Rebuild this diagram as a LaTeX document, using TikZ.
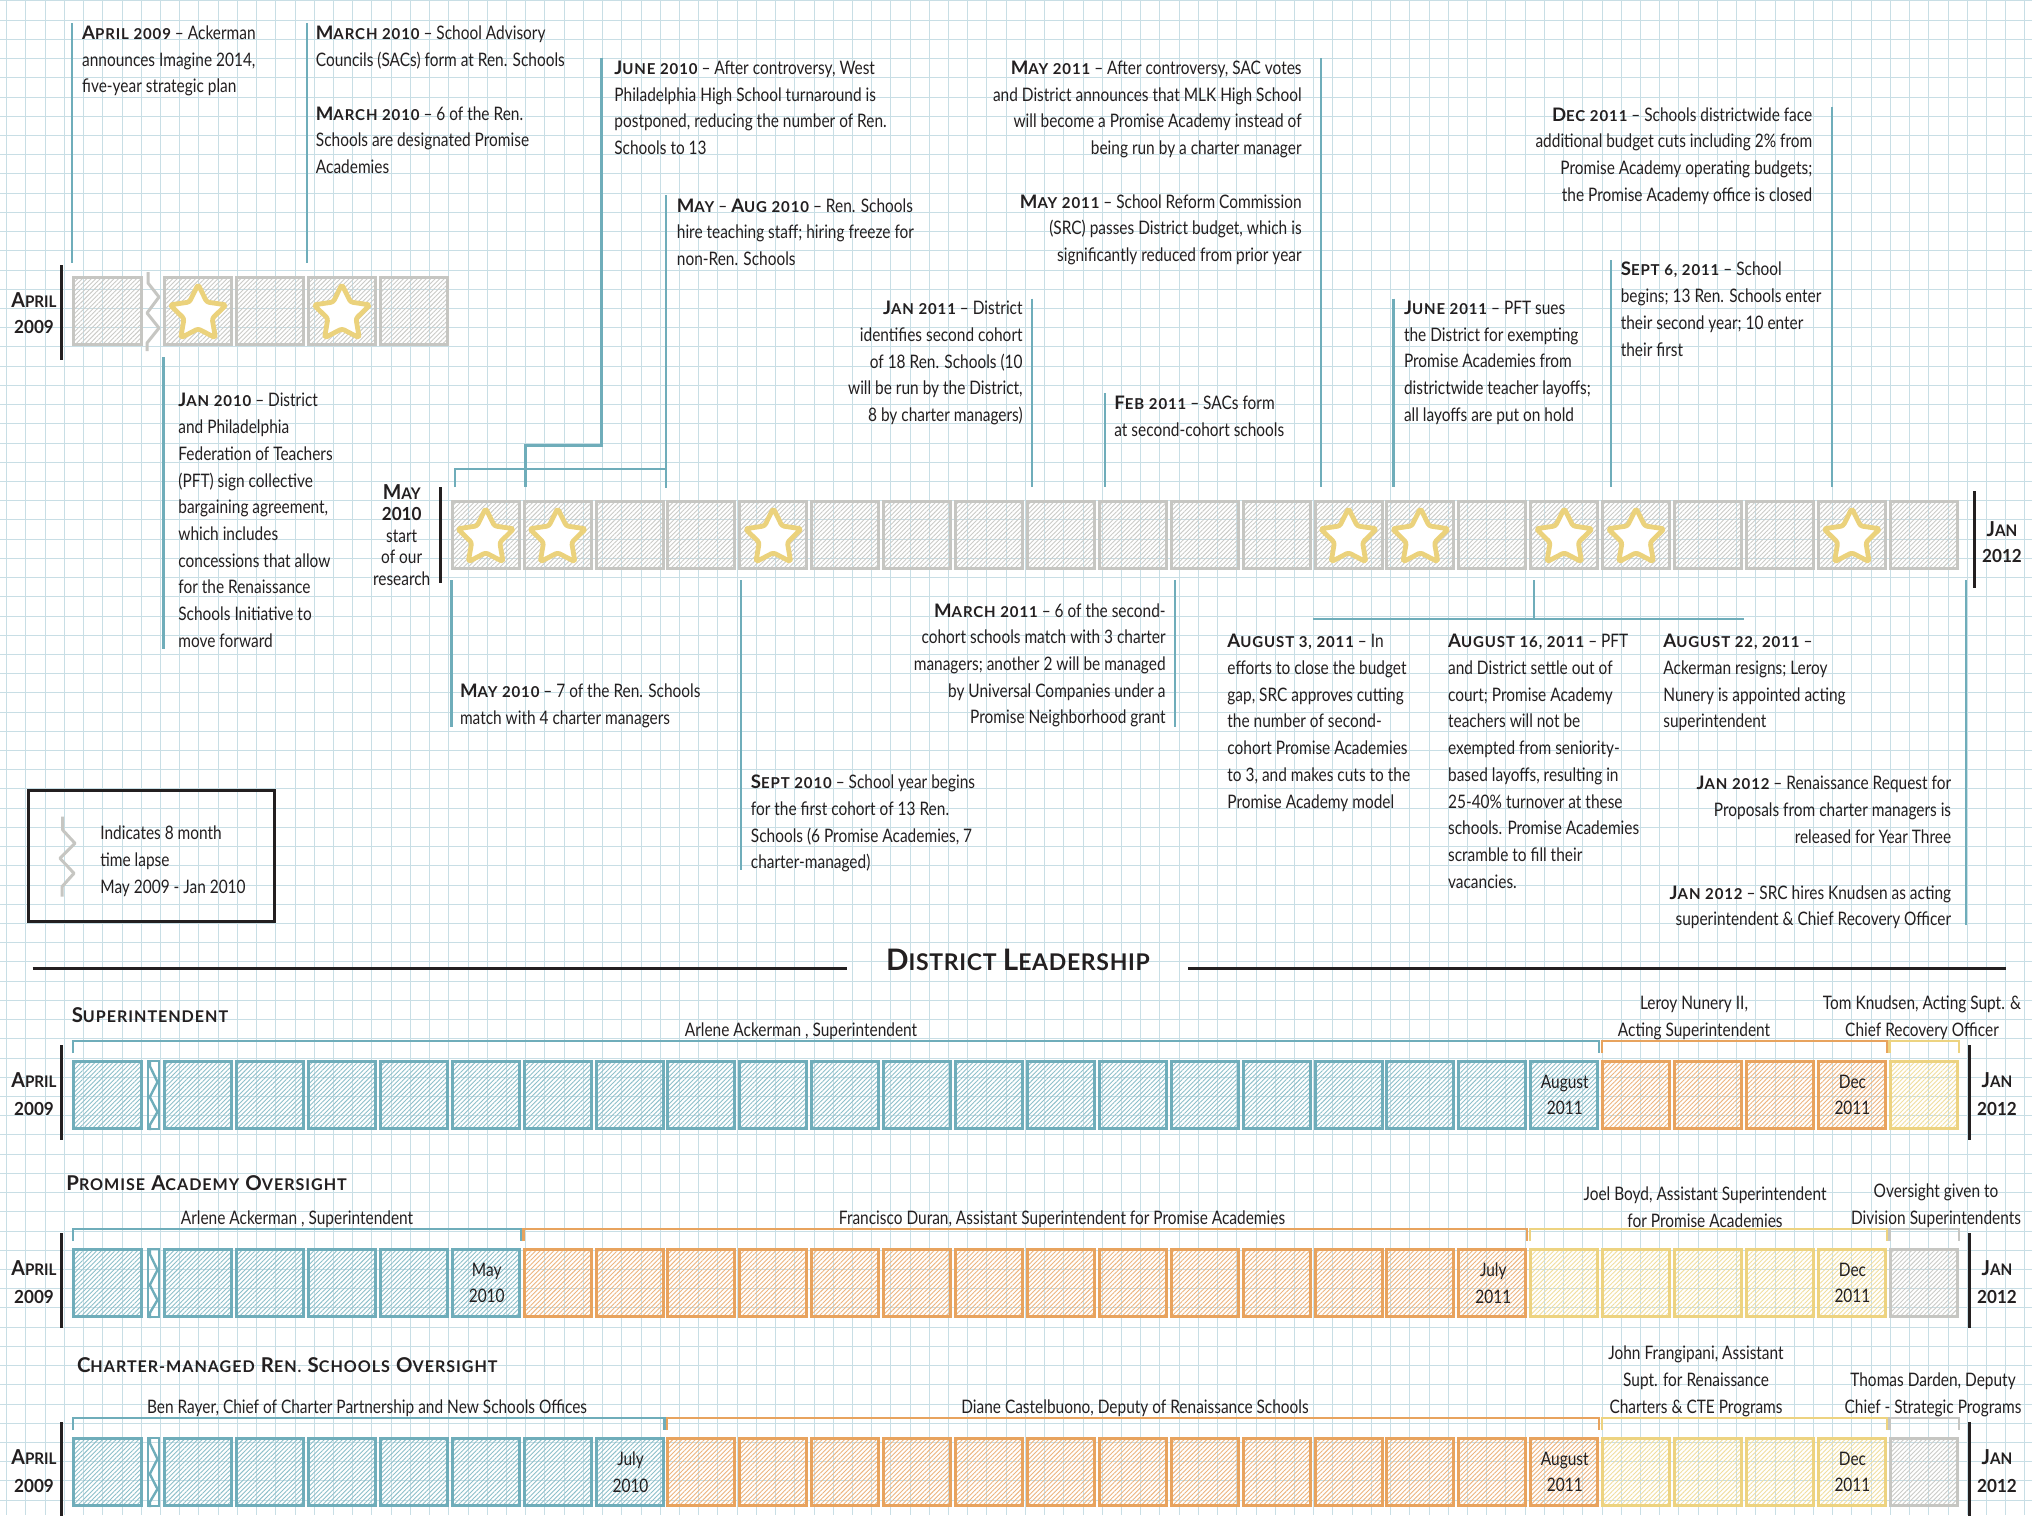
\documentclass[tikz,border=0pt]{standalone}
\usepackage{fontspec}
\setmainfont{Lato}[FakeStretch=0.83]
\newfontfamily\hdfont{Lato}[LetterSpace=6]
\newfontfamily\ttfont{Lato}[LetterSpace=3]
\newfontfamily\sdfont{Lato}[FakeStretch=0.95]
\usetikzlibrary{patterns.meta}
\definecolor{cink}{HTML}{231F20}
\definecolor{cteal}{HTML}{6FADBA}
\definecolor{ctealh}{HTML}{8DBFCA}
\definecolor{corange}{HTML}{E8A35E}
\definecolor{corangeh}{HTML}{EDB47E}
\definecolor{cyellow}{HTML}{EDD380}
\definecolor{cyellowh}{HTML}{F1DE9E}
\definecolor{cgray}{HTML}{C6C6C2}
\definecolor{cgrayh}{HTML}{CBCBC7}
\definecolor{cstar}{HTML}{EBD27C}
\definecolor{cgrid}{HTML}{C8DEE5}
\newcommand\bodyfont{\fontsize{9.3}{13.35}\selectfont}
\newcommand\hd[2]{{\hdfont\bfseries #1\fontsize{7.5}{8}\selectfont\MakeUppercase{#2}}}
\newcommand\shd[2]{{\sdfont\bfseries\fontsize{10.3}{12}\selectfont #1\fontsize{8}{12}\selectfont\MakeUppercase{#2}}}
\newcommand\sdig[1]{{\sdfont\bfseries\fontsize{9}{12}\selectfont #1}}
\newcommand\sect[1]{{\hdfont\bfseries\fontsize{10.2}{13}\selectfont #1}}
\newcommand\secs[1]{{\fontsize{8.05}{13}\selectfont\MakeUppercase{#1}}}
\newcommand\mbx[3]{%
  \pgfmathsetmacro\bxL{163.1+#1*71.9+1.5}%
  \pgfmathsetmacro\bxR{163.1+#1*71.9+68.5}%
  \draw[bx=#3] (\bxL,#2+1.5) rectangle (\bxR,#2+68.5);}
\newcommand\ystar[2]{%
  \draw[starsty] (#1,#2) +(-90:29.5) -- +(-54:14.8) -- +(-18:29.5) -- +(18:14.8) -- +(54:29.5) -- +(90:14.8) -- +(126:29.5) -- +(162:14.8) -- +(198:29.5) -- +(234:14.8) -- cycle;}
\newcommand\kstar[2]{\pgfmathsetmacro\stx{163.1+#1*71.9+35}\ystar{\stx}{#2}}
\newcommand\brk[4]{\draw[brsty=#4] (#1,#3+12) -- (#1,#3) -- (#2,#3) -- (#2,#3+12);}
\newcommand\strip[1]{%
  \draw[cteal, line width=1.2pt] (148,#1+1.2) rectangle (158.7,#1+68.8);
  \draw[cteal, line width=1.2pt, line join=round] (149.8,#1) -- (149.8,#1+6) -- (157.5,#1+22) -- (149.8,#1+37) -- (157.5,#1+52) -- (149.8,#1+65) -- (149.8,#1+70);}
\newcommand\sidelabs[2]{%
  \node[lab, anchor=base] (L#2a) at (34,#1+27) {\shd{A}{pril}};
  \node[lab, anchor=base] (L#2b) at (34,#1+55) {\sdig{2009}};
  \draw[blk] (61.7,#1-15) -- (61.7,#1+80);
  \node[lab, anchor=base] (R#2a) at (1997,#1+27) {\shd{J}{an}};
  \node[lab, anchor=base] (R#2b) at (1997,#1+55) {\sdig{2012}};
  \draw[blk] (1969,#1-15) -- (1969,#1+80);}
\begin{document}
\begin{tikzpicture}[x=0.5pt,y=-0.5pt,
  grid/.style={cgrid, line width=0.45pt},
  bx/.style={draw=#1, line width=1.5pt, pattern={Lines[angle=45,distance=1.6pt,line width=0.45pt]}, pattern color=#1h},
  starsty/.style={cstar, line width=2.4pt, fill=white, line join=round, rounded corners=1.2pt},
  conn/.style={cteal, line width=1.3pt},
  blk/.style={cink, line width=1.5pt},
  brsty/.style={#1, line width=1.1pt},
  txt/.style={font=\bodyfont, text=cink, inner sep=0pt, align=left, yshift=-1pt},
  txtr/.style={font=\bodyfont, text=cink, inner sep=0pt, align=right, yshift=-1pt},
  lab/.style={font=\bodyfont, text=cink, inner sep=0pt, align=center},
  zig/.style={cgray, line width=1.5pt, line join=round}]
\fill[white] (0,0) rectangle (2032,1515);
\useasboundingbox (0,0) rectangle (2032,1515);
\clip (0,0) rectangle (2032,1515);
\foreach \i in {0,...,105} \draw[grid] ({6.7+\i*19.22},0) -- ++(0,1515);
\foreach \j in {0,...,78} \draw[grid] (0,{0.9+\j*19.22}) -- ++(2032,0);

% ---------- top small timeline ----------
\draw[bx=cgray] (73.5,277.5) rectangle (141.5,344.5);
\foreach \k in {0,...,3} \mbx{\k}{276}{cgray};
\kstar{0}{314}\kstar{2}{314}
\draw[zig] (148,272) -- (148,283) -- (159,297) -- (147,313) -- (159,328) -- (147,343) -- (147,351);
\node[lab, anchor=base] (apr1) at (34,307) {\shd{A}{pril}};
\node[lab, anchor=base] (apr2) at (34,333) {\sdig{2009}};
\draw[blk] (61.7,265) -- (61.7,360);

% ---------- main timeline ----------
\foreach \k in {4,...,24} \mbx{\k}{500}{cgray};
\foreach \k in {4,5,8,16,17,19,20,23} \kstar{\k}{537.9};
\node[lab, anchor=north, font=\fontsize{9.3}{10.75}\selectfont] (may) at (401.7,484) {\shd{M}{ay}\\\sdig{2010}\\start\\of our\\research};
\draw[blk] (440.7,487) -- (440.7,583);
\node[lab, anchor=base] (jan1) at (2002,536) {\shd{J}{an}};
\node[lab, anchor=base] (jan2) at (2002,562) {\sdig{2012}};
\draw[blk] (1974,491) -- (1974,588);

% ---------- event texts ----------
\node[txt, anchor=north west] (t1) at (81.8,23.5) {\hd{A}{pril 2009} -- Ackerman\\announces Imagine 2014,\\five-year strategic plan};
\node[txt, anchor=north west] (t2) at (315.5,23.5) {\hd{M}{arch 2010} -- School Advisory\\Councils (SACs) form at Ren. Schools};
\node[txt, anchor=north west] (t3) at (315.5,104) {\hd{M}{arch 2010} -- 6 of the Ren.\\Schools are designated Promise\\Academies};
\node[txt, anchor=north west] (t4) at (614,58.5) {\hd{J}{une 2010} -- After controversy, West\\Philadelphia High School turnaround is\\postponed, reducing the number of Ren.\\Schools to 13};
\node[txt, anchor=north west] (t5) at (676.5,196) {\hd{M}{ay} -- \hd{A}{ug 2010} -- Ren. Schools\\hire teaching staff; hiring freeze for\\non-Ren. Schools};
\node[txtr, anchor=north east] (t6) at (1302,58.5) {\hd{M}{ay 2011} -- After controversy, SAC votes\\and District announces that MLK High School\\will become a Promise Academy instead of\\being run by a charter manager};
\node[txtr, anchor=north east] (t7) at (1302,192) {\hd{M}{ay 2011} -- School Reform Commission\\(SRC) passes District budget, which is\\significantly reduced from prior year};
\node[txtr, anchor=north east] (t8) at (1812.6,105) {\hd{D}{ec 2011} -- Schools districtwide face\\additional budget cuts including 2\% from\\Promise Academy operating budgets;\\the Promise Academy office is closed};
\node[txt, anchor=north west] (t9) at (1620.4,259.8) {\hd{S}{ept 6, 2011} -- School\\begins; 13 Ren. Schools enter\\their second year; 10 enter\\their first};
\node[txt, anchor=north west] (t10) at (1403.6,298.7) {\hd{J}{une 2011} -- PFT sues\\the District for exempting\\Promise Academies from\\districtwide teacher layoffs;\\all layoffs are put on hold};
\node[txt, anchor=north west] (t11) at (1114,393.5) {\hd{F}{eb 2011} -- SACs form\\at second-cohort schools};
\node[txtr, anchor=north east] (t12) at (1023,298.7) {\hd{J}{an 2011} -- District\\identifies second cohort\\of 18 Ren. Schools (10\\will be run by the District,\\8 by charter managers)};
\node[txt, anchor=north west] (t13) at (178,391) {\hd{J}{an 2010} -- District\\and Philadelphia\\Federation of Teachers\\(PFT) sign collective\\bargaining agreement,\\which includes\\concessions that allow\\for the Renaissance\\Schools Initiative to\\move forward};
\node[txt, anchor=north west] (t14) at (459.6,681.7) {\hd{M}{ay 2010} -- 7 of the Ren. Schools\\match with 4 charter managers};
\node[txt, anchor=north west] (t15) at (750.5,772.6) {\hd{S}{ept 2010} -- School year begins\\for the first cohort of 13 Ren.\\Schools (6 Promise Academies, 7\\charter-managed)};
\node[txtr, anchor=north east] (t16) at (1166,601) {\hd{M}{arch 2011} -- 6 of the second-\\cohort schools match with 3 charter\\managers; another 2 will be managed\\by Universal Companies under a\\Promise Neighborhood grant};
\node[txt, anchor=north west] (t17) at (1227,632) {\hd{A}{ugust 3, 2011} -- In\\efforts to close the budget\\gap, SRC approves cutting\\the number of second-\\cohort Promise Academies\\to 3, and makes cuts to the\\Promise Academy model};
\node[txt, anchor=north west] (t18) at (1447.7,632) {\hd{A}{ugust 16, 2011} -- PFT\\and District settle out of\\court; Promise Academy\\teachers will not be\\exempted from seniority-\\based layoffs, resulting in\\25-40\% turnover at these\\schools. Promise Academies\\scramble to fill their\\vacancies.};
\node[txt, anchor=north west] (t19) at (1663,632) {\hd{A}{ugust 22, 2011} --\\Ackerman resigns; Leroy\\Nunery is appointed acting\\superintendent};
\node[txtr, anchor=north east] (t20) at (1951.5,774) {\hd{J}{an 2012} -- Renaissance Request for\\Proposals from charter managers is\\released for Year Three};
\node[txtr, anchor=north east] (t21) at (1951.5,883) {\hd{J}{an 2012} -- SRC hires Knudsen as acting\\superintendent \& Chief Recovery Officer};

% ---------- connectors ----------
\draw[conn] (72,23) -- (72,263);
\draw[conn] (307,23) -- (307,263);
\draw[conn] (163.5,357) -- (163.5,649);
\draw[conn] (601.7,58) -- (601.7,445.7) -- (525.7,445.7) -- (525.7,487);
\draw[conn] (666,195) -- (666,488);
\draw[conn] (455,487) -- (455,469) -- (666,469);
\draw[conn] (1032,298.6) -- (1032,487);
\draw[conn] (1105,393) -- (1105,487);
\draw[conn] (1321,58) -- (1321,487);
\draw[conn] (1393.5,298.6) -- (1393.5,487);
\draw[conn] (1611,260) -- (1611,487);
\draw[conn] (1832,106.5) -- (1832,487);
\draw[conn] (451.5,580) -- (451.5,727);
\draw[conn] (741,580) -- (741,870);
\draw[conn] (1175,580) -- (1175,727);
\draw[conn] (1534,580) -- (1534,619);
\draw[conn] (1313,619) -- (1744,619);
\draw[conn] (1966,580) -- (1966,924.5);

% ---------- legend ----------
\draw[blk] (28,790.5) rectangle (274,921.5);
\draw[zig] (62.7,816.7) -- (62.7,830) -- (75,843.3) -- (60,858.3) -- (74,873.3) -- (62,886.7) -- (62,896.7);
\node[txt, anchor=north west] (leg) at (100,823.5) {Indicates 8 month\\time lapse\\May 2009 - Jan 2010};

% ---------- district leadership ----------
\node[lab, anchor=base] (title) at (1018,970) {{\ttfont\bfseries\fontsize{14.8}{18}\selectfont D\fontsize{11.5}{18}\selectfont ISTRICT \fontsize{14.8}{18}\selectfont L\fontsize{11.5}{18}\selectfont EADERSHIP}};
\draw[blk] (32.5,968) -- (846.7,968);
\draw[blk] (1188,968) -- (2006,968);

% superintendent
\node[txt, anchor=base west, yshift=1pt] (s1) at (71.4,1022) {\sect{S\secs{uperintendent}}};
\draw[bx=cteal] (73.5,1061.5) rectangle (141.5,1128.5);
\strip{1060}
\foreach \k in {0,...,19} \mbx{\k}{1060}{cteal};
\foreach \k in {20,...,23} \mbx{\k}{1060}{corange};
\mbx{24}{1060}{cyellow}
\sidelabs{1060}{s}
\node[lab] (s1b) at (1564.8,1095) {August\\2011};
\node[lab] (s2b) at (1852.4,1095) {Dec\\2011};
\brk{72.8}{1599.1}{1041}{cteal}
\brk{1601.9}{1886.7}{1041}{corange}
\brk{1889.4}{1958.7}{1041}{cyellow}
\node[lab, anchor=south] (s1l) at (801,1040) {Arlene Ackerman , Superintendent};
\node[lab, anchor=south] (s2l) at (1694,1040) {Leroy Nunery II,\\Acting Superintendent};
\node[lab, anchor=south] (s3l) at (1922,1040) {Tom Knudsen, Acting Supt. \&\\Chief Recovery Officer};

% promise
\node[txt, anchor=base west, yshift=1pt] (p1) at (66,1190) {\sect{P\secs{romise} A\secs{cademy} O\secs{versight}}};
\draw[bx=cteal] (73.5,1249.5) rectangle (141.5,1316.5);
\strip{1248}
\foreach \k in {0,...,4} \mbx{\k}{1248}{cteal};
\foreach \k in {5,...,18} \mbx{\k}{1248}{corange};
\foreach \k in {19,...,23} \mbx{\k}{1248}{cyellow};
\mbx{24}{1248}{cgray}
\sidelabs{1248}{p}
\node[lab] (p1b) at (486.7,1283) {May\\2010};
\node[lab] (p2b) at (1493.3,1283) {July\\2011};
\node[lab] (p3b) at (1852.4,1283) {Dec\\2011};
\brk{72.8}{520.6}{1229}{cteal}
\brk{523.4}{1527.2}{1229}{corange}
\brk{1530}{1886.7}{1229}{cyellow}
\brk{1889.4}{1958.7}{1229}{cgray}
\node[lab, anchor=south] (p1l) at (297,1228) {Arlene Ackerman , Superintendent};
\node[lab, anchor=south] (p2l) at (1062,1228) {Francisco Duran, Assistant Superintendent for Promise Academies};
\node[lab, anchor=south] (p3l) at (1705,1228) {Joel Boyd, Assistant Superintendent\\for Promise Academies};
\node[lab, anchor=south] (p4l) at (1936,1228) {Oversight given to\\Division Superintendents};

% charter
\node[txt, anchor=base west, yshift=1pt] (c1) at (76.6,1372) {\sect{C\secs{harter-managed} R\secs{en.} S\secs{chools} O\secs{versight}}};
\draw[bx=cteal] (73.5,1438.5) rectangle (141.5,1505.5);
\strip{1437}
\foreach \k in {0,...,6} \mbx{\k}{1437}{cteal};
\foreach \k in {7,...,19} \mbx{\k}{1437}{corange};
\foreach \k in {20,...,23} \mbx{\k}{1437}{cyellow};
\mbx{24}{1437}{cgray}
\sidelabs{1437}{c}
\node[lab] (c1b) at (630.5,1472) {July\\2010};
\node[lab] (c2b) at (1564.8,1472) {August\\2011};
\node[lab] (c3b) at (1852.4,1472) {Dec\\2011};
\brk{72.8}{664.4}{1418}{cteal}
\brk{667.2}{1599.1}{1418}{corange}
\brk{1601.9}{1886.7}{1418}{cyellow}
\brk{1889.4}{1958.7}{1418}{cgray}
\node[lab, anchor=south] (c1l) at (367,1417) {Ben Rayer, Chief of Charter Partnership and New Schools Offices};
\node[lab, anchor=south] (c2l) at (1135,1417) {Diane Castelbuono, Deputy of Renaissance Schools};
\node[lab, anchor=south] (c3l) at (1696,1417) {John Frangipani, Assistant\\Supt. for Renaissance\\Charters \& CTE Programs};
\node[lab, anchor=south] (c4l) at (1933,1417) {Thomas Darden, Deputy\\Chief - Strategic Programs};
\end{tikzpicture}
\end{document}
